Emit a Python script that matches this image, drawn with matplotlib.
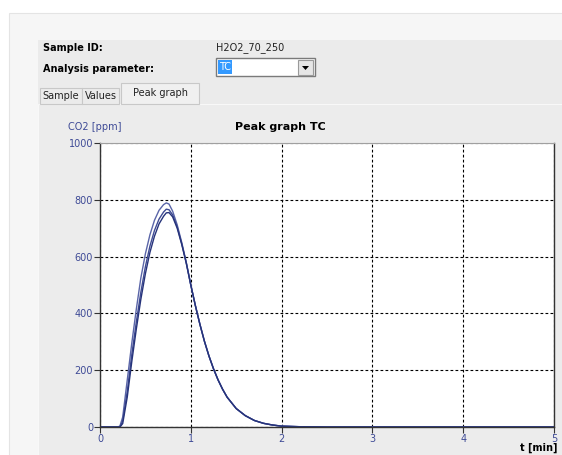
import numpy as np
import matplotlib
matplotlib.use("Agg")
import matplotlib.pyplot as plt
from matplotlib.patches import Rectangle, Polygon

# Peak graph TC, kolme mittausta
t_min = [0, 0.2, 0.22, 0.25, 0.3, 0.35, 0.4, 0.45, 0.5, 0.55, 0.6, 0.65, 0.7, 0.73,
         0.76, 0.8, 0.85, 0.9, 0.95, 1.0, 1.05, 1.1, 1.15, 1.2, 1.25, 1.3, 1.35,
         1.4, 1.5, 1.6, 1.7, 1.8, 1.9, 2.0, 2.2, 2.5, 3.0, 4.0, 5.0]
tail = [500, 428, 362, 302, 250, 205, 166, 133, 105, 65, 40, 23, 13, 7, 3, 1,
        0, 0, 0, 0]
run1 = [0, 0, 4, 35, 165, 295, 415, 525, 610, 677, 728, 763, 783, 789,
        785, 760, 712, 650, 580] + tail
run2 = [0, 0, 0, 22, 125, 255, 370, 475, 565, 637, 692, 732, 757, 767,
        765, 747, 705, 646, 578] + tail
run3 = [0, 0, 0, 12, 105, 230, 345, 450, 540, 615, 672, 715, 742, 754,
        755, 740, 700, 643, 577] + tail
runs = [run1, run2, run3]
run_colors = ['#5a65a8', '#3f4b94', '#26337a']

x_ticks = [0, 1, 2, 3, 4, 5]
y_ticks = [0, 200, 400, 600, 800, 1000]

W, H = 562, 455
plt.rcParams['font.family'] = ['DejaVu Sans']


# Suorakulmio pikselikoordinaateissa (y ylhäältä alas)
def box(fig, x, y, w, h, fc, ec='none', lw=0.8):
    r = Rectangle((x / W, 1 - (y + h) / H), w / W, h / H, transform=fig.transFigure,
                  facecolor=fc, edgecolor=ec, linewidth=lw, zorder=-5)
    fig.add_artist(r)


def txt(fig, x, y, s, **kw):
    fig.text(x / W, 1 - y / H, s, va='center', **kw)


fig = plt.figure(figsize=(W / 100, H / 100), dpi=100)
fig.patch.set_facecolor('white')

# Taustapaneelit
box(fig, 9, 13, 560, 450, '#f6f6f6', '#e4e4e4')
box(fig, 38, 40, 530, 420, '#ebebeb')
box(fig, 38, 104, 530, 360, '#ececec', '#f8f8f8')

txt(fig, 43, 48, 'Sample ID:', fontsize=7, fontweight='bold', color='black')
txt(fig, 43, 69, 'Analysis parameter:', fontsize=7, fontweight='bold', color='black')
txt(fig, 216, 48, 'H2O2_70_250', fontsize=7, color='#222222')

# Pudotusvalikko
box(fig, 216, 58, 99, 18, 'white', '#7a7a7a', 1.0)
box(fig, 218, 60, 14, 14, '#3399ff')
txt(fig, 219, 67, 'TC', fontsize=7, color='white')
box(fig, 298, 60, 15, 15, '#e6e6e6', '#9a9a9a')
tri = Polygon([(302 / W, 1 - 66 / H), (309 / W, 1 - 66 / H), (305.5 / W, 1 - 70 / H)],
              closed=True, transform=fig.transFigure, facecolor='black', edgecolor='none')
fig.add_artist(tri)

# Välilehdet
box(fig, 40, 88, 42, 16, '#ebebeb', '#c8c8c8')
box(fig, 82, 88, 37, 16, '#ebebeb', '#c8c8c8')
box(fig, 121, 83, 78, 21, '#f0f0f0', '#c8c8c8')
txt(fig, 61, 96, 'Sample', fontsize=7, color='#222222', ha='center')
txt(fig, 101, 96, 'Values', fontsize=7, color='#222222', ha='center')
txt(fig, 160, 93, 'Peak graph', fontsize=7, color='#222222', ha='center')

# Kuvaaja
ax = fig.add_axes([100 / W, 28 / H, 454 / W, 284 / H])
ax.set_zorder(5)
ax.set_facecolor('white')
for r, c in zip(runs, run_colors):
    ax.plot(t_min, r, color=c, linewidth=1.0)

ax.set_xlim(0, 5)
ax.set_ylim(0, 1000)
ax.set_xticks(x_ticks)
ax.set_yticks(y_ticks)
ax.tick_params(axis='both', labelsize=7, labelcolor='#3e4a96', length=4,
               color='#333333', pad=1)
ax.grid(True, color='black', linestyle=(0, (2.5, 2)), linewidth=0.8)
for s in ['left', 'bottom', 'right']:
    ax.spines[s].set_color('#333333')
    ax.spines[s].set_linewidth(1.0)
ax.spines['top'].set_color('#a0a0a0')

txt(fig, 68, 127, 'CO2 [ppm]', fontsize=7, color='#3e4a96')
txt(fig, 280, 127, 'Peak graph TC', fontsize=8, fontweight='bold', color='black', ha='center')
txt(fig, 558, 448, 't [min]', fontsize=7, fontweight='bold', color='black', ha='right')

fig.savefig('out.png', dpi=100)
